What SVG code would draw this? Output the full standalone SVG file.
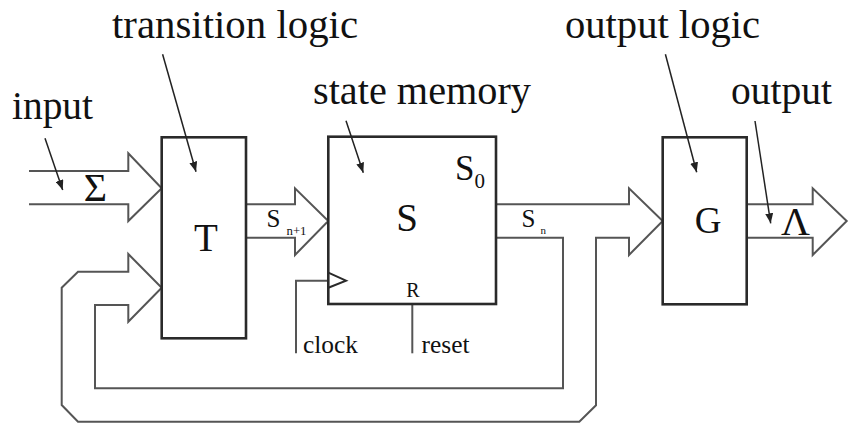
<svg xmlns="http://www.w3.org/2000/svg" width="856" height="426" viewBox="0 0 856 426">
<defs>
<style>
.box{fill:#fff;stroke:#2a2a2a;stroke-width:2.6}
.wire{fill:none;stroke:#555;stroke-width:2;stroke-linejoin:miter}
.ptr{fill:none;stroke:#222;stroke-width:1.5}
.lbl{font-family:"Liberation Serif","Times New Roman",serif;font-size:41px;fill:#111}
.sym{font-family:"Liberation Serif","Times New Roman",serif;fill:#111}
</style>
<marker id="ah" viewBox="0 0 10 8" refX="10" refY="4" markerWidth="10" markerHeight="8" markerUnits="userSpaceOnUse" orient="auto">
<path d="M0,0 L10,4 L0,8 Z" fill="#222"/>
</marker>
</defs>
<rect width="856" height="426" fill="#fff"/>

<g id="connectors">
<!-- input arrow -->
<path class="wire" d="M29,171 H128.3 V153.3 L161.7,188.3 L128.3,221 V204.3 H29"/>
<!-- S n+1 arrow -->
<path class="wire" d="M246,204.3 H295 V188.3 L328.3,221 L295,255 V237.7 H246"/>
<!-- S n arrow to G with feedback loop into T -->
<path class="wire" d="M496,204.3 H629 V188.3 L662.7,221 L629,255 V237.7 H596 V405.3 L579.3,421.7 H78 L61.7,405 V287.7 L78,271.7 H128.3 V254 L161.7,287.7 L128.3,321.7 V305 H95 V388.3 H563 V237.7 H496"/>
<!-- output arrow -->
<path class="wire" d="M746.7,204.3 H812.7 V188.3 L846.7,221 L812.7,255 V237.7 H746.7"/>
<!-- clock and reset -->
<path class="wire" d="M296,353.3 V280.7 H328.3"/>
<path class="wire" d="M412.3,304 V353.3"/>
</g>

<g id="node-T">
<rect class="box" x="161.7" y="137.3" width="84.3" height="201"/>
<text class="sym" x="206" y="251" font-size="39" text-anchor="middle">T</text>
</g>

<g id="node-S">
<rect class="box" x="328.3" y="136.7" width="167.7" height="167.3"/>
<path d="M328.3,272.7 L346,280.7 L328.3,287.7" fill="none" stroke="#2a2a2a" stroke-width="2"/>
<text class="sym" x="407" y="231" font-size="39" text-anchor="middle">S</text>
<text class="sym" x="455" y="180" font-size="35">S</text>
<text class="sym" x="474.5" y="187.7" font-size="21">0</text>
<text class="sym" x="413" y="296.7" font-size="20" text-anchor="middle">R</text>
</g>

<g id="node-G">
<rect class="box" x="662.7" y="137.3" width="84" height="167"/>
<text class="sym" x="708" y="233.3" font-size="37" text-anchor="middle">G</text>
</g>

<g id="pointers">
<line class="ptr" x1="45" y1="138.3" x2="62.7" y2="190" marker-end="url(#ah)"/>
<line class="ptr" x1="162.6" y1="54.3" x2="196" y2="171.7" marker-end="url(#ah)"/>
<line class="ptr" x1="346" y1="120.7" x2="363.3" y2="172.7" marker-end="url(#ah)"/>
<line class="ptr" x1="665.4" y1="54.3" x2="696.7" y2="172.3" marker-end="url(#ah)"/>
<line class="ptr" x1="755" y1="121" x2="770.7" y2="223.3" marker-end="url(#ah)"/>
</g>

<g id="labels">
<text class="lbl" x="112" y="38" textLength="246" lengthAdjust="spacingAndGlyphs">transition logic</text>
<text class="lbl" x="12" y="119" textLength="81" lengthAdjust="spacingAndGlyphs">input</text>
<text class="lbl" x="313" y="104" textLength="218" lengthAdjust="spacingAndGlyphs">state memory</text>
<text class="lbl" x="565" y="38" textLength="195" lengthAdjust="spacingAndGlyphs">output logic</text>
<text class="lbl" x="731" y="104" textLength="101" lengthAdjust="spacingAndGlyphs">output</text>
<text class="sym" x="95.5" y="201" font-size="40" text-anchor="middle">Σ</text>
<text class="sym" x="266.5" y="226.7" font-size="25">S</text>
<text class="sym" x="286.5" y="235" font-size="13" textLength="20" lengthAdjust="spacingAndGlyphs">n+1</text>
<text class="sym" x="521.5" y="226.7" font-size="25">S</text>
<text class="sym" x="540.5" y="234.3" font-size="11">n</text>
<text class="sym" x="795.5" y="235" font-size="40" text-anchor="middle">Λ</text>
<text class="sym" x="303" y="353.3" font-size="25" textLength="55" lengthAdjust="spacingAndGlyphs">clock</text>
<text class="sym" x="421.5" y="353.3" font-size="25" textLength="48" lengthAdjust="spacingAndGlyphs">reset</text>
</g>
</svg>
